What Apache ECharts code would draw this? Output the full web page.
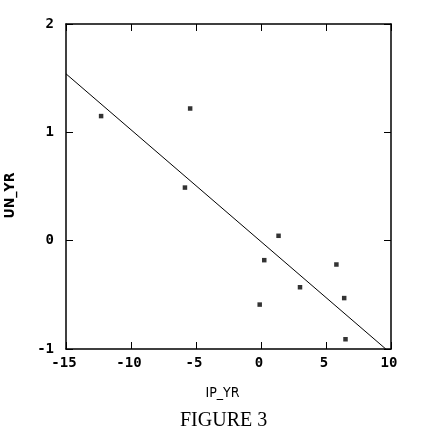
<!DOCTYPE html>
<html>
<head>
<meta charset="utf-8">
<script src="https://cdn.jsdelivr.net/npm/echarts@6/dist/echarts.min.js"></script>
<style>
html,body{margin:0;padding:0;background:#fff;}
#chart{width:436px;height:441px;}
</style>
</head>
<body>
<div id="chart"></div>
<script>
// Data
const ipYr = [-12.3, -5.45, -5.85, 1.35, 0.25, 5.8, 3.0, 6.4, -0.1, 6.5];
const unYr = [1.15, 1.22, 0.49, 0.045, -0.18, -0.22, -0.43, -0.53, -0.59, -0.91];
const fitX = [-15, 9.6];
const fitY = [1.54, -1.0];
const xTicks = [-15, -10, -5, 0, 5, 10];
const yTicks = [-1, 0, 1, 2];

const points = ipYr.map((x, i) => [x, unYr[i]]);
const fitLine = fitX.map((x, i) => [x, fitY[i]]);

const monoFont = '"DejaVu Sans Mono", monospace';
const chart = echarts.init(document.getElementById('chart'), null, {renderer: 'canvas'});

const tickStyle = {show: true, inside: true, length: 7, lineStyle: {color: '#000', width: 1}};
const lineStyle = {show: true, onZero: false, lineStyle: {color: '#000', width: 1.5}};

chart.setOption({
  animation: false,
  backgroundColor: '#fff',
  grid: {left: 66, top: 24, width: 325, height: 325, containLabel: false, outerBoundsMode: 'none',
         show: false},
  xAxis: [{
    type: 'value', min: xTicks[0], max: xTicks[xTicks.length - 1], interval: 5,
    position: 'bottom',
    splitLine: {show: false},
    axisLine: lineStyle,
    axisTick: tickStyle,
    axisLabel: {color: '#000', fontFamily: monoFont, fontWeight: 'bold', fontSize: 14, margin: 7, padding: [0, 4, 0, 0]},
    name: 'IP_YR', nameLocation: 'middle', nameGap: 37,
    nameTextStyle: {color: '#000', fontFamily: '"DejaVu Sans Condensed", "DejaVu Sans"', fontSize: 14, padding: [0, 12, 0, 0]}
  }, {
    type: 'value', min: xTicks[0], max: xTicks[xTicks.length - 1], interval: 5,
    position: 'top',
    splitLine: {show: false},
    axisLine: lineStyle,
    axisTick: tickStyle,
    axisLabel: {show: false}
  }],
  yAxis: [{
    type: 'value', min: yTicks[0], max: yTicks[yTicks.length - 1], interval: 1,
    position: 'left',
    splitLine: {show: false},
    axisLine: lineStyle,
    axisTick: tickStyle,
    axisLabel: {color: '#000', fontFamily: monoFont, fontWeight: 'bold', fontSize: 14, margin: 12},
    name: 'UN_YR', nameLocation: 'middle', nameGap: 49, nameRotate: 90,
    nameTextStyle: {color: '#000', fontFamily: '"DejaVu Sans Condensed", "DejaVu Sans"', fontWeight: 'bold', fontSize: 14, padding: [0, 18, 0, 0]}
  }, {
    type: 'value', min: yTicks[0], max: yTicks[yTicks.length - 1], interval: 1,
    position: 'right',
    splitLine: {show: false},
    axisLine: lineStyle,
    axisTick: tickStyle,
    axisLabel: {show: false}
  }],
  graphic: [{
    type: 'text', left: 180, top: 411,
    style: {text: 'FIGURE 3', fill: '#000', font: '20px "Liberation Serif", serif'}
  }],
  series: [{
    type: 'scatter', data: points, symbol: 'rect', symbolSize: 4.5,
    itemStyle: {color: '#000'}, silent: true
  }, {
    type: 'line', data: fitLine, symbol: 'none',
    lineStyle: {color: '#000', width: 1}, silent: true
  }]
});
</script>
</body>
</html>
